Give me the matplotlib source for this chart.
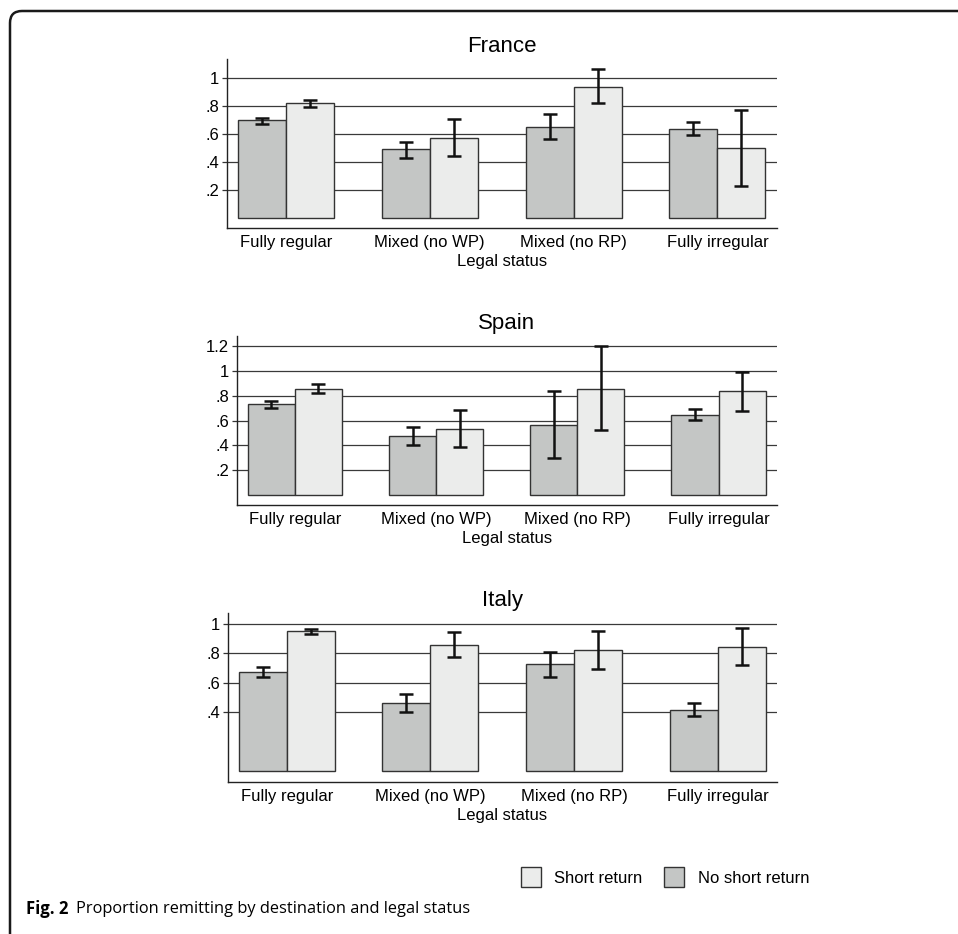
import numpy as np
import matplotlib
matplotlib.use("Agg")
import matplotlib.pyplot as plt
from matplotlib.patches import FancyBboxPatch, Patch

plt.rcParams['font.family'] = ['Liberation Sans', 'DejaVu Sans']

# legal status categories
categories = ["Fully regular", "Mixed (no WP)", "Mixed (no RP)", "Fully irregular"]

# France: proportion remitting and 95% CI bounds
france_none = [0.700, 0.490, 0.652, 0.636]
france_none_lo = [0.674, 0.431, 0.564, 0.591]
france_none_hi = [0.717, 0.545, 0.745, 0.686]
france_short = [0.819, 0.574, 0.938, 0.502]
france_short_lo = [0.793, 0.441, 0.819, 0.229]
france_short_hi = [0.843, 0.707, 1.062, 0.771]
france_ticks = [0.2, 0.4, 0.6, 0.8, 1.0]

# Spain
spain_none = [0.731, 0.478, 0.562, 0.648]
spain_none_lo = [0.699, 0.406, 0.296, 0.605]
spain_none_hi = [0.760, 0.548, 0.836, 0.696]
spain_short = [0.857, 0.535, 0.857, 0.836]
spain_short_lo = [0.825, 0.387, 0.524, 0.677]
spain_short_hi = [0.893, 0.685, 1.200, 0.994]
spain_ticks = [0.2, 0.4, 0.6, 0.8, 1.0, 1.2]

# Italy
italy_none = [0.670, 0.461, 0.724, 0.418]
italy_none_lo = [0.636, 0.402, 0.641, 0.375]
italy_none_hi = [0.704, 0.522, 0.807, 0.463]
italy_short = [0.947, 0.857, 0.821, 0.839]
italy_short_lo = [0.927, 0.774, 0.695, 0.718]
italy_short_hi = [0.963, 0.943, 0.949, 0.968]
italy_ticks = [0.4, 0.6, 0.8, 1.0]

DARK = "#c4c6c5"
LIGHT = "#ebeceb"
EDGE = "#333333"

W, H = 958, 934
fig = plt.figure(figsize=(W / 100, H / 100), dpi=100)


def px_axes(left, top, right, bottom):
    return fig.add_axes([left / W, 1 - bottom / H, (right - left) / W, (bottom - top) / H])


def tick_label(v):
    s = "%g" % v
    return s[1:] if s.startswith("0.") else s


def panel(ax, title, none, none_lo, none_hi, short, short_lo, short_hi, ticks, ylim):
    x = np.arange(len(categories))
    w = 0.334
    err_kw = dict(ecolor="#111111", elinewidth=1.8, capsize=4.7, capthick=1.8, zorder=4)
    none = np.array(none)
    short = np.array(short)
    ax.bar(x - w / 2, none, w, color=DARK, edgecolor=EDGE, linewidth=1.0, zorder=3,
           yerr=[none - np.array(none_lo), np.array(none_hi) - none], error_kw=err_kw)
    ax.bar(x + w / 2, short, w, color=LIGHT, edgecolor=EDGE, linewidth=1.0, zorder=3,
           yerr=[short - np.array(short_lo), np.array(short_hi) - short], error_kw=err_kw)
    ax.set_xlim(-0.41, 3.414)
    ax.set_ylim(*ylim)
    ax.set_yticks(ticks)
    ax.set_yticklabels([tick_label(t) for t in ticks])
    for t in ticks:
        ax.axhline(t, color="#3a3a3a", linewidth=0.9, zorder=1)
    ax.set_xticks(x)
    ax.set_xticklabels(categories)
    ax.tick_params(axis="x", length=0, pad=5, labelsize=12)
    ax.tick_params(axis="y", length=3.6, width=0.9, color="#333333", pad=2, labelsize=12)
    for s in ("top", "right"):
        ax.spines[s].set_visible(False)
    for s in ("left", "bottom"):
        ax.spines[s].set_color("#222222")
        ax.spines[s].set_linewidth(1.0)
    ax.set_xlabel("Legal status", fontsize=12, labelpad=3)
    ax.set_title(title, fontsize=16, pad=5)


ax1 = px_axes(227, 59, 777, 228)
panel(ax1, "France", france_none, france_none_lo, france_none_hi,
      france_short, france_short_lo, france_short_hi, france_ticks, (-0.0714, 1.136))

ax2 = px_axes(237, 336, 777, 505)
panel(ax2, "Spain", spain_none, spain_none_lo, spain_none_hi,
      spain_short, spain_short_lo, spain_short_hi, spain_ticks, (-0.081, 1.282))

ax3 = px_axes(228, 613, 777, 782)
panel(ax3, "Italy", italy_none, italy_none_lo, italy_none_hi,
      italy_short, italy_short_lo, italy_short_hi, italy_ticks, (-0.071, 1.071))

handles = [Patch(facecolor=LIGHT, edgecolor=EDGE, linewidth=1.0, label="Short return"),
           Patch(facecolor=DARK, edgecolor=EDGE, linewidth=1.0, label="No short return")]
fig.legend(handles=handles, loc="center", bbox_to_anchor=(665 / W, 1 - 877 / H), ncol=2,
           frameon=False, fontsize=12, handlelength=1.2, handleheight=1.4,
           columnspacing=1.3, handletextpad=0.8)

# caption
fig.text(26 / W, 1 - 909 / H, "Fig. 2", fontsize=12, fontweight="bold",
         family=["Open Sans", "DejaVu Sans"], va="center", ha="left")
fig.text(76 / W, 1 - 909 / H, "Proportion remitting by destination and legal status",
         fontsize=11.8, family=["Open Sans", "DejaVu Sans"], va="center", ha="left")

# rounded frame running off the right and bottom edges
frame = FancyBboxPatch((10, -50), 1100, H - 11 + 50, boxstyle="round,pad=0,rounding_size=12",
                       transform=None, facecolor="none", edgecolor="#1a1a1a", linewidth=1.8,
                       clip_on=False)
fig.patches.append(frame)

fig.savefig("out.png", dpi=100, facecolor="white")
